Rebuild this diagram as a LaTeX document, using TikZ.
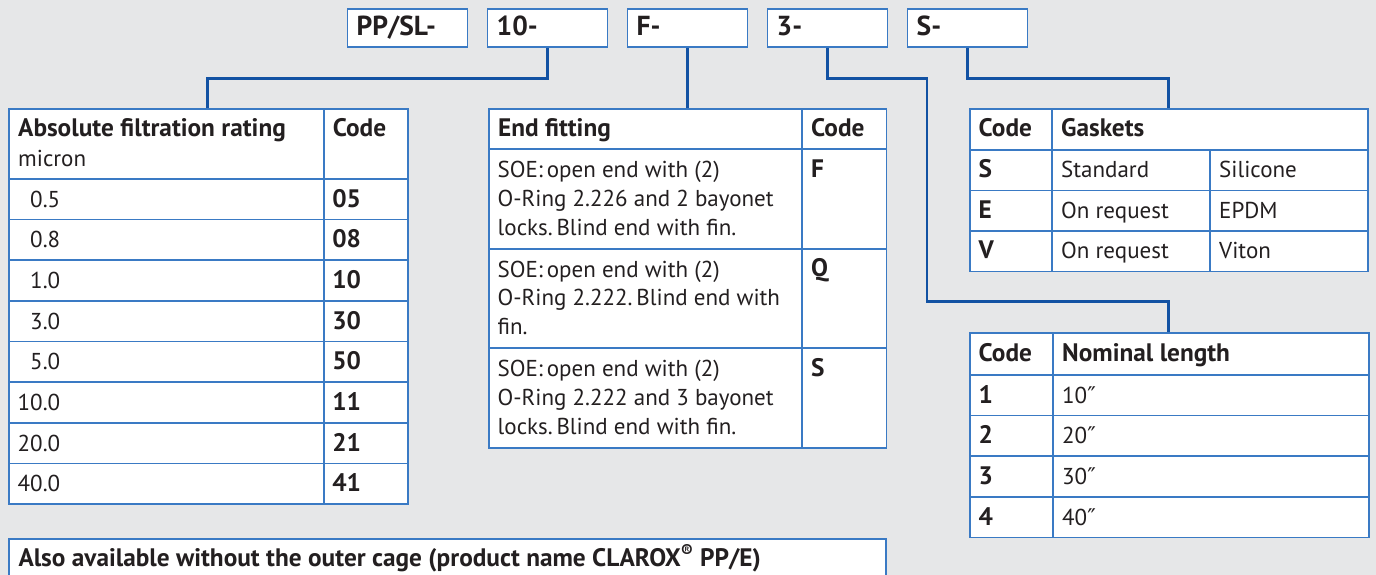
\documentclass[tikz,border=0pt]{standalone}
\usepackage{fontspec}
\setmainfont{PT Sans}[BoldFeatures={Scale=1.1}]
\newfontfamily\dvs{DejaVu Sans}
\definecolor{bg}{RGB}{230,231,232}
\definecolor{bord}{RGB}{58,122,196}
\definecolor{conncol}{RGB}{18,82,163}
\definecolor{ink}{RGB}{35,31,32}
\newcommand\tfs{\fontsize{23}{28.8}\selectfont}
\newcommand\kfs{\fontsize{25}{30}\selectfont}
\newcommand\dprime{{\dvs\fontsize{23}{28}\selectfont ″}}
\tikzset{
  cell/.style={draw=bord, fill=white, line width=1.8pt, anchor=north west, inner sep=0pt},
  txt/.style={anchor=base west, inner sep=0pt, text=ink, font=\tfs},
  mtxt/.style={anchor=north west, inner sep=0pt, text=ink, font=\tfs, align=left},
  keybox/.style={draw=bord, fill=white, line width=1.8pt, anchor=north west, inner sep=0pt,
    minimum width=120pt, minimum height=37.7pt},
  keytxt/.style={anchor=base west, inner sep=0pt, text=ink, font=\kfs\bfseries},
  conn/.style={draw=conncol, line width=2.8pt, line join=miter},
}
\begin{document}
\begin{tikzpicture}[x=1pt,y=-1pt]
\useasboundingbox (0,0) rectangle (1376,575);
\clip (0,0) rectangle (1376,575);
\fill[bg] (0,0) rectangle (1376,575);

% ---- key boxes
\foreach \t/\n [count=\k from 0] in {{PP/SL-}/kPP, {10-}/k10, {F-}/kF, {3-}/k3, {S-}/kS}{
  \node[keybox] (\n) at ({346.5+\k*140},8.3) {};
  \node[keytxt] (t\n) at ([shift={(10,27.7)}]\n.north west) {\t};
}

% ---- left table (filtration rating)
\node[cell, minimum width=314.7pt, minimum height=69.7pt] (LH1) at (8,108.3) {};
\node[cell, minimum width=84pt, minimum height=69.7pt] (LH2) at (322.7,108.3) {};
\node[txt] (tLH1a) at ([shift={(10,28.4)}]LH1.north west) {\textbf{Absolute filtration rating}};
\node[txt] (tLH1b) at ([shift={(10,58.4)}]LH1.north west) {micron};
\node[txt] (tLH2) at ([shift={(10,28.4)}]LH2.north west) {\textbf{Code}};
\foreach \v/\c [count=\k from 0] in {{\phantom{1}0.5}/05, {\phantom{1}0.8}/08, {\phantom{1}1.0}/10,
   {\phantom{1}3.0}/30, {\phantom{1}5.0}/50, 10.0/11, 20.0/21, 40.0/41}{
  \node[cell, minimum width=314.7pt, minimum height=40.66pt] (La\k) at (8,{178+\k*40.66}) {};
  \node[cell, minimum width=84pt, minimum height=40.66pt] (Lb\k) at (322.7,{178+\k*40.66}) {};
  \node[txt] (tLa\k) at ([shift={(9.5,29.3)}]La\k.north west) {\v};
  \node[txt] (tLb\k) at ([shift={(9.5,29.3)}]Lb\k.north west) {\textbf{\c}};
}

% ---- end fitting table
\node[cell, minimum width=313pt, minimum height=40pt] (EH1) at (488,108.3) {};
\node[cell, minimum width=84.5pt, minimum height=40pt] (EH2) at (801,108.3) {};
\node[txt] (tEH1) at ([shift={(10,28.4)}]EH1.north west) {\textbf{End fitting}};
\node[txt] (tEH2) at ([shift={(10,28.4)}]EH2.north west) {\textbf{Code}};
\foreach \a/\b/\c/\cd [count=\k from 0] in {
   {SOE:\,open end with (2)}/{O-Ring 2.226 and 2 bayonet}/{locks.\,Blind end with fin.}/F,
   {SOE:\,open end with (2)}/{O-Ring 2.222.\,Blind end with}/{fin.}/Q,
   {SOE:\,open end with (2)}/{O-Ring 2.222 and 3 bayonet}/{locks.\,Blind end with fin.}/S}{
  \node[cell, minimum width=313pt, minimum height=99.5pt] (Ea\k) at (488,{148.3+\k*99.5}) {};
  \node[cell, minimum width=84.5pt, minimum height=99.5pt] (Eb\k) at (801,{148.3+\k*99.5}) {};
  \node[mtxt] (tEa\k) at ([shift={(9.5,29-19)}]Ea\k.north west) {\rule{0pt}{19pt}\a\\\b\\\c};
  \node[txt] (tEb\k) at ([shift={(10,29)}]Eb\k.north west) {\textbf{\cd}};
}

% ---- gaskets table
\node[cell, minimum width=82pt, minimum height=40.7pt] (GH1) at (969,108.3) {};
\node[cell, minimum width=316.3pt, minimum height=40.7pt] (GH2) at (1051,108.3) {};
\node[txt] (tGH1) at ([shift={(9.5,28)}]GH1.north west) {\textbf{Code}};
\node[txt] (tGH2) at ([shift={(10,28)}]GH2.north west) {\textbf{Gaskets}};
\foreach \c/\a/\b [count=\k from 0] in {S/Standard/Silicone, E/On request/EPDM, V/On request/Viton}{
  \node[cell, minimum width=82pt, minimum height=40.5pt] (Ga\k) at (969,{149+\k*40.5}) {};
  \node[cell, minimum width=158pt, minimum height=40.5pt] (Gb\k) at (1051,{149+\k*40.5}) {};
  \node[cell, minimum width=158.3pt, minimum height=40.5pt] (Gc\k) at (1209,{149+\k*40.5}) {};
  \node[txt] (tGa\k) at ([shift={(9.5,28.7)}]Ga\k.north west) {\textbf{\c}};
  \node[txt] (tGb\k) at ([shift={(10,28.7)}]Gb\k.north west) {\a};
  \node[txt] (tGc\k) at ([shift={(10,28.7)}]Gc\k.north west) {\b};
}

% ---- nominal length table
\node[cell, minimum width=83pt, minimum height=42pt] (NH1) at (969,332) {};
\node[cell, minimum width=315.7pt, minimum height=42pt] (NH2) at (1052,332) {};
\node[txt] (tNH1) at ([shift={(9.5,29.5)}]NH1.north west) {\textbf{Code}};
\node[txt] (tNH2) at ([shift={(10,29.5)}]NH2.north west) {\textbf{Nominal length}};
\foreach \c/\a [count=\k from 0] in {1/10, 2/20, 3/30, 4/40}{
  \node[cell, minimum width=83pt, minimum height=40.67pt] (Na\k) at (969,{374+\k*40.67}) {};
  \node[cell, minimum width=315.7pt, minimum height=40.67pt] (Nb\k) at (1052,{374+\k*40.67}) {};
  \node[txt] (tNa\k) at ([shift={(9.5,29.3)}]Na\k.north west) {\textbf{\c}};
  \node[txt] (tNb\k) at ([shift={(10,29.3)}]Nb\k.north west) {\a\dprime};
}

% ---- bottom note
\node[cell, minimum width=877pt, minimum height=60pt] (note) at (8,538.3) {};
\node[txt] (tnote) at ([shift={(10.3,28.4)}]note.north west)
  {\textbf{Also available without the outer cage (product name CLAROX\textsuperscript{®} PP/E)}};

% ---- connectors
\coordinate (Ltop) at (207.3,108.3);
\coordinate (Gtop) at (1168.2,108.3);
\coordinate (Ntop) at (1168.2,332);
\coordinate (j3) at (927,301.7);
\draw[conn] (k10.south) -- ++(0,31) -| (Ltop);
\draw[conn] (kF.south) -- (kF.south |- EH1.north);
\draw[conn] (k3.south) -- ++(0,31) -| (j3) -| (Ntop);
\draw[conn] (kS.south) -- ++(0,31) -| (Gtop);
\end{tikzpicture}
\end{document}
